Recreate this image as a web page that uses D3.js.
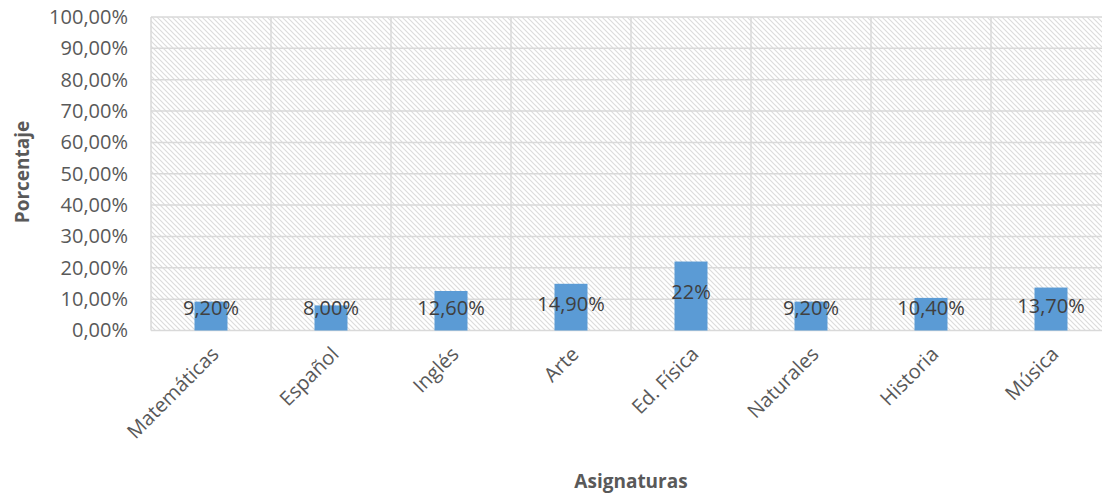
<!DOCTYPE html>
<html>
<head>
<meta charset="utf-8">
<script src="https://cdn.jsdelivr.net/npm/d3@7"></script>
<style>
  body { margin: 0; background: #fff; }
  text { font-family: "Open Sans", "Noto Sans", sans-serif; }
</style>
</head>
<body>
<div id="chart"></div>
<script>
// Data ////////////////////////////////////////////////////////////////////
const subjects = ['Matemáticas', 'Español', 'Inglés', 'Arte', 'Ed. Física', 'Naturales', 'Historia', 'Música'];
const percentages = [9.2, 8.0, 12.6, 14.9, 22, 9.2, 10.4, 13.7];
const valueLabels = ['9,20%', '8,00%', '12,60%', '14,90%', '22%', '9,20%', '10,40%', '13,70%'];
const yTicks = [0, 10, 20, 30, 40, 50, 60, 70, 80, 90, 100];

// Chart ///////////////////////////////////////////////////////////////////
const width = 1102, height = 499;
const plot = {left: 151, top: 17, right: 1111, bottom: 330.5};

const svg = d3.select('#chart').append('svg')
  .attr('width', width)
  .attr('height', height);

// hatch pattern for the plot background
const defs = svg.append('defs');
const pattern = defs.append('pattern')
  .attr('id', 'hatch')
  .attr('patternUnits', 'userSpaceOnUse')
  .attr('width', 5)
  .attr('height', 5);
pattern.append('path')
  .attr('d', 'M-1,-1 L6,6 M-1,4 L1,6 M4,-1 L6,1')
  .attr('stroke', '#dcdcdc')
  .attr('stroke-width', 1.2);

const x = d3.scaleBand()
  .domain(subjects)
  .range([plot.left, plot.right]);

const y = d3.scaleLinear()
  .domain([0, 100])
  .range([plot.bottom, plot.top]);

svg.append('rect')
  .attr('x', plot.left)
  .attr('y', plot.top)
  .attr('width', plot.right - plot.left)
  .attr('height', plot.bottom - plot.top)
  .attr('fill', 'url(#hatch)');

// horizontal gridlines
svg.append('g')
  .selectAll('line')
  .data(yTicks)
  .enter().append('line')
  .attr('x1', plot.left)
  .attr('x2', plot.right)
  .attr('y1', d => y(d))
  .attr('y2', d => y(d))
  .attr('stroke', '#d9d9d9')
  .attr('stroke-width', 1.5);

// vertical gridlines at category boundaries
svg.append('g')
  .selectAll('line')
  .data(subjects.concat(['end']))
  .enter().append('line')
  .attr('x1', (d, i) => plot.left + i * x.bandwidth())
  .attr('x2', (d, i) => plot.left + i * x.bandwidth())
  .attr('y1', plot.top)
  .attr('y2', plot.bottom)
  .attr('stroke', '#d9d9d9')
  .attr('stroke-width', 1.5);

// y axis labels
const yAxis = svg.append('g')
  .attr('transform', `translate(${plot.left - 23},0)`)
  .call(d3.axisLeft(y).tickValues(yTicks).tickSize(0).tickPadding(0)
    .tickFormat(d => d3.format('.2f')(d).replace('.', ',') + '%'));
yAxis.select('.domain').remove();
yAxis.selectAll('text')
  .attr('fill', '#595959')
  .style('font-size', '20px');

// bars
const barWidth = 33;
svg.append('g')
  .selectAll('rect')
  .data(percentages)
  .enter().append('rect')
  .attr('x', (d, i) => x(subjects[i]) + x.bandwidth() / 2 - barWidth / 2)
  .attr('y', d => y(d))
  .attr('width', barWidth)
  .attr('height', d => y(0) - y(d))
  .attr('fill', '#5b9bd5');

// value labels
svg.append('g')
  .selectAll('text')
  .data(percentages)
  .enter().append('text')
  .attr('x', (d, i) => x(subjects[i]) + x.bandwidth() / 2)
  .attr('y', d => y(Math.max(d * 0.56, 7.2)))
  .attr('dy', '0.35em')
  .attr('text-anchor', 'middle')
  .attr('fill', '#404040')
  .style('font-size', '20px')
  .text((d, i) => valueLabels[i]);

// x axis category labels, rotated
svg.append('g')
  .selectAll('text')
  .data(subjects)
  .enter().append('text')
  .attr('transform', d => `translate(${x(d) + x.bandwidth() / 2 + 4},${plot.bottom + 20}) rotate(-45)`)
  .attr('text-anchor', 'end')
  .attr('dy', '0.35em')
  .attr('fill', '#595959')
  .style('font-size', '20px')
  .text(d => d);

// axis titles
svg.append('text')
  .attr('x', 631)
  .attr('y', 481)
  .attr('dy', '0.35em')
  .attr('text-anchor', 'middle')
  .attr('fill', '#595959')
  .style('font-size', '19px')
  .style('font-weight', 'bold')
  .text('Asignaturas');

svg.append('text')
  .attr('transform', 'translate(22,172) rotate(-90)')
  .attr('dy', '0.35em')
  .attr('text-anchor', 'middle')
  .attr('fill', '#595959')
  .style('font-size', '19px')
  .style('font-weight', 'bold')
  .text('Porcentaje');
</script>
</body>
</html>
